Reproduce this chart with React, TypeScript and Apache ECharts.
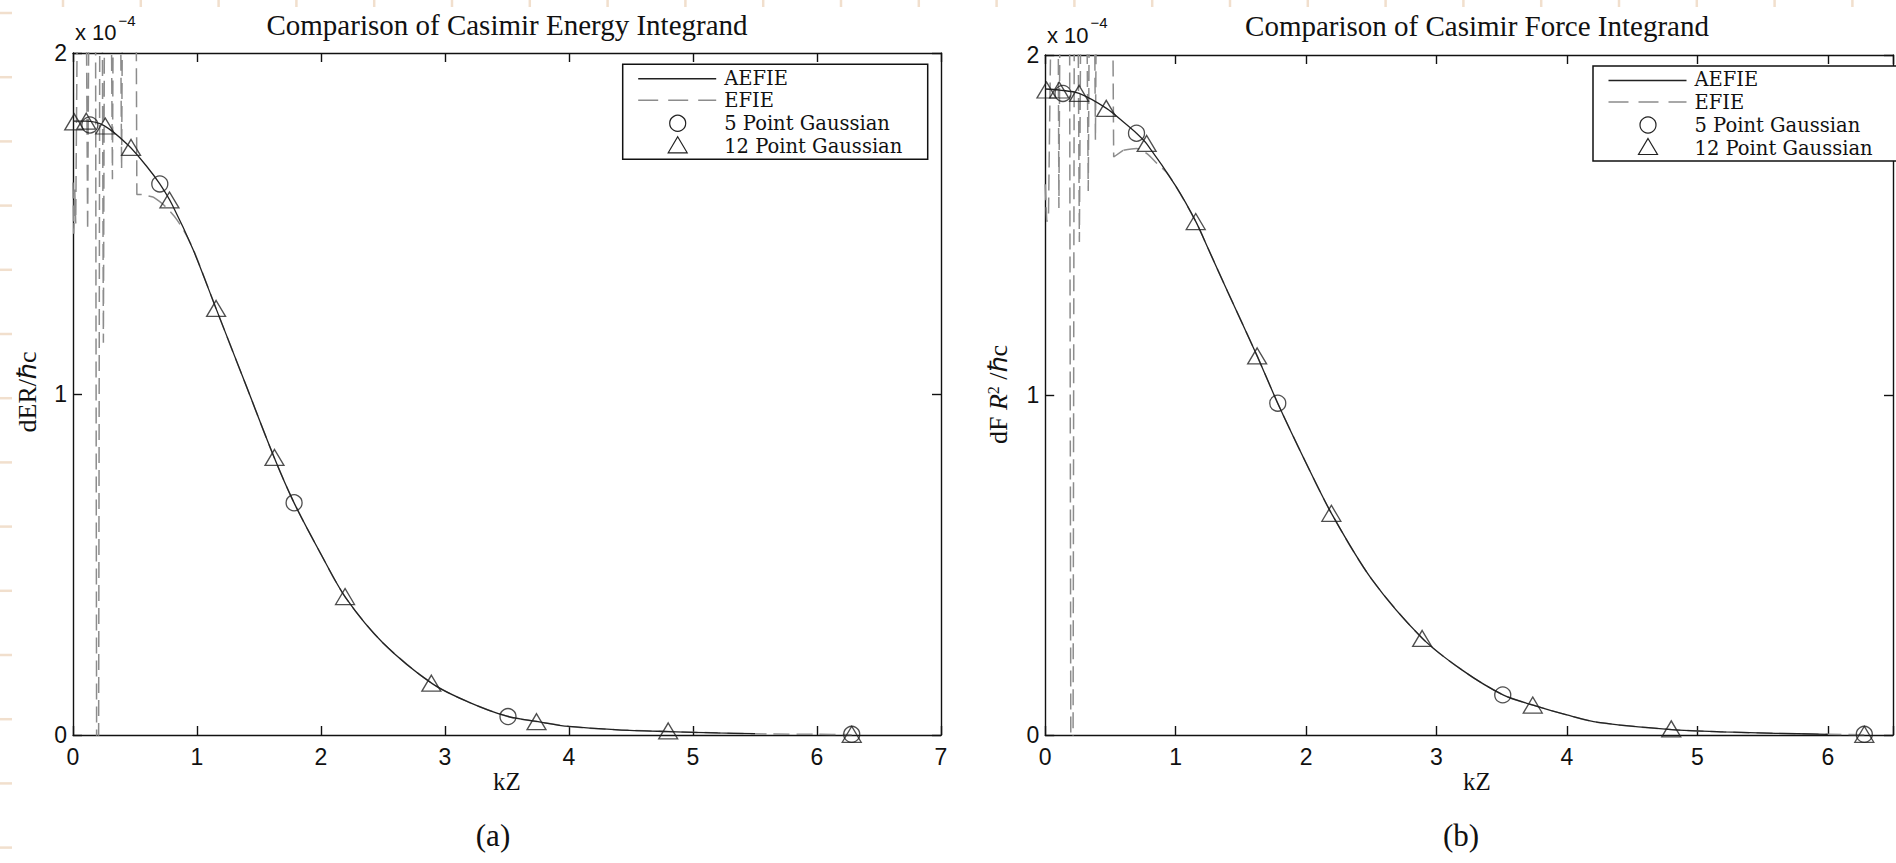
import React, { useEffect, useRef } from "react";
import * as echarts from "echarts";

// Quadrature abscissae (kZ) shared by both panels
const gauss12X = [0.01, 0.107, 0.26, 0.468, 0.778, 1.154, 1.625, 2.194, 2.89, 3.738, 4.8, 6.28];
const gauss5X = [0.136, 0.7, 1.783, 3.508, 6.28];

// (a) Casimir energy integrand, in units of 1e-4
const energyAefieX = [0, 0.1, 0.25, 0.45, 0.6, 0.7, 0.8, 0.97, 1.15, 1.4, 1.62, 1.78, 2.0, 2.2, 2.5, 2.9, 3.2, 3.5, 3.75, 4.0, 4.4, 4.8, 5.2, 5.5];
const energyAefieY = [1.8, 1.8, 1.787, 1.728, 1.665, 1.616, 1.555, 1.422, 1.254, 1.021, 0.816, 0.683, 0.53, 0.402, 0.27, 0.15, 0.095, 0.055, 0.039, 0.025, 0.015, 0.01, 0.006, 0.004];
const energyEfieX = [0, 0.006, 0.014, 0.022, 0.045, 0.1, 0.118, 0.135, 0.18, 0.192, 0.205, 0.218, 0.232, 0.245, 0.258, 0.3, 0.318, 0.33, 0.375, 0.392, 0.405, 0.505, 0.515, 0.56, 0.645, 0.73, 0.84, 0.95, 1.05, 1.15, 1.4, 1.62, 1.78, 2.0, 2.2, 2.5, 2.9, 3.2, 3.5, 3.75, 4.0, 4.4, 4.8, 5.2, 5.6, 6.0, 6.28];
const energyEfieY = [1.62, 1.47, 1.6, 1.5, 2.6, 2.6, 1.48, 2.6, 2.6, -0.4, -0.4, 2.6, 2.6, 1.15, 2.6, 2.6, 1.63, 2.6, 2.6, 1.66, 2.6, 2.6, 1.585, 1.585, 1.578, 1.555, 1.51, 1.44, 1.35, 1.254, 1.021, 0.816, 0.683, 0.53, 0.402, 0.27, 0.15, 0.095, 0.055, 0.039, 0.025, 0.015, 0.01, 0.006, 0.003, 0.002, 0.001];
const energyGauss5Y = [1.789, 1.616, 0.681, 0.054, 0.002];
const energyGauss12Y = [1.798, 1.8, 1.786, 1.723, 1.569, 1.251, 0.814, 0.406, 0.152, 0.039, 0.012, 0.002];

// (b) Casimir force integrand, in units of 1e-4
const forceAefieX = [0, 0.11, 0.26, 0.47, 0.6, 0.7, 0.78, 1.0, 1.155, 1.25, 1.4, 1.625, 1.78, 2.0, 2.2, 2.5, 2.89, 3.2, 3.51, 3.74, 4.0, 4.24, 4.8, 5.2, 5.6, 6.0];
const forceAefieY = [1.9, 1.897, 1.887, 1.843, 1.803, 1.77, 1.738, 1.615, 1.51, 1.43, 1.303, 1.115, 0.978, 0.8, 0.648, 0.46, 0.285, 0.19, 0.118, 0.088, 0.059, 0.037, 0.016, 0.009, 0.005, 0.002];
const forceEfieX = [0, 0.012, 0.025, 0.06, 0.095, 0.105, 0.12, 0.185, 0.198, 0.212, 0.225, 0.245, 0.262, 0.28, 0.31, 0.33, 0.345, 0.37, 0.385, 0.4, 0.51, 0.525, 0.6, 0.7, 0.78, 0.86, 0.93, 1.0, 1.155, 1.25, 1.4, 1.625, 1.78, 2.0, 2.2, 2.5, 2.89, 3.2, 3.51, 3.74, 4.0, 4.24, 4.8, 5.2, 5.6, 6.0, 6.28];
const forceEfieY = [1.62, 1.51, 1.52, 2.6, 2.6, 1.55, 2.6, 2.6, -0.4, -0.4, 2.6, 2.6, 1.45, 2.6, 2.6, 1.6, 2.6, 2.6, 1.75, 2.6, 2.6, 1.7, 1.72, 1.725, 1.71, 1.68, 1.655, 1.615, 1.51, 1.43, 1.303, 1.115, 0.978, 0.8, 0.648, 0.46, 0.285, 0.19, 0.118, 0.088, 0.059, 0.037, 0.016, 0.009, 0.005, 0.002, 0.001];
const forceGauss5Y = [1.887, 1.77, 0.976, 0.118, 0.002];
const forceGauss12Y = [1.897, 1.897, 1.887, 1.843, 1.74, 1.51, 1.115, 0.652, 0.284, 0.088, 0.018, 0.002];

const titles = ["Comparison of Casimir Energy Integrand", "Comparison of Casimir Force Integrand"];
const legendNames = ["AEFIE", "EFIE", "5 Point Gaussian", "12 Point Gaussian"];
const xAxisMax = [7, 6.5];
const yAxisMax = 2;
const efieSmoothFrom = 0.6; // kZ beyond which the EFIE trace is a smooth curve

const SERIF = "'Liberation Serif', 'Times New Roman', serif";
const LEGEND_SERIF = "'DejaVu Serif', 'Liberation Serif', serif";
const SANS = "'Liberation Sans', Arial, Helvetica, sans-serif";
const INK = "#111";

const zip = (xs: number[], ys: number[]) => xs.map((x, i) => [x, ys[i]]);

function axesFor(gridIndex: number, xmax: number) {
  const line = { show: true, onZero: false, lineStyle: { color: INK, width: 1.4 } };
  const tick = { show: true, inside: true, length: 9, lineStyle: { color: INK, width: 1.4 } };
  const lab = { fontFamily: SANS, fontSize: 23, color: INK };
  const x = [
    {
      type: "value", gridIndex, min: 0, max: xmax, interval: 1, position: "bottom",
      axisLine: line, axisTick: tick, splitLine: { show: false },
      axisLabel: { ...lab, margin: 10, formatter: (v: number) => (Number.isInteger(v) ? String(v) : "") },
    },
    {
      type: "value", gridIndex, min: 0, max: xmax, interval: 1, position: "top",
      axisLine: line, axisTick: tick, splitLine: { show: false }, axisLabel: { show: false },
    },
  ];
  const y = [
    {
      type: "value", gridIndex, min: 0, max: yAxisMax, interval: 1, position: "left",
      axisLine: line, axisTick: tick, splitLine: { show: false },
      axisLabel: { ...lab, margin: 6 },
    },
    {
      type: "value", gridIndex, min: 0, max: yAxisMax, interval: 1, position: "right",
      axisLine: line, axisTick: tick, splitLine: { show: false }, axisLabel: { show: false },
    },
  ];
  return { x, y };
}

function seriesFor(axisIndex: number, aX: number[], aY: number[], eX: number[], eY: number[], g5: number[], g12: number[]) {
  const efie = zip(eX, eY);
  const k = eX.findIndex((x) => x >= efieSmoothFrom);
  const efieStyle = { color: "#8c8c8c", width: 1.5, type: [16, 7] };
  return [
    {
      type: "line", name: legendNames[1], xAxisIndex: axisIndex, yAxisIndex: axisIndex,
      data: efie.slice(0, k + 1), showSymbol: false, smooth: false, silent: true, z: 2,
      lineStyle: efieStyle,
    },
    {
      type: "line", name: legendNames[1], xAxisIndex: axisIndex, yAxisIndex: axisIndex,
      data: efie.slice(k), showSymbol: false, smooth: 0.3, silent: true, z: 2,
      lineStyle: efieStyle,
    },
    {
      type: "line", name: legendNames[0], xAxisIndex: axisIndex, yAxisIndex: axisIndex,
      data: zip(aX, aY), showSymbol: false, smooth: 0.3, silent: true, z: 3,
      lineStyle: { color: "#222", width: 1.3 },
    },
    {
      type: "scatter", name: legendNames[2], xAxisIndex: axisIndex, yAxisIndex: axisIndex,
      data: zip(gauss5X, g5), symbol: "circle", symbolSize: 16, silent: true, z: 4, clip: false,
      itemStyle: { color: "rgba(0,0,0,0)", borderColor: "#222", borderWidth: 1.3 },
    },
    {
      type: "scatter", name: legendNames[3], xAxisIndex: axisIndex, yAxisIndex: axisIndex,
      data: zip(gauss12X, g12), symbol: "triangle", symbolSize: [19, 16], silent: true, z: 4, clip: false,
      itemStyle: { color: "rgba(0,0,0,0)", borderColor: "#222", borderWidth: 1.3 },
    },
  ];
}

function legendGraphics(x0: number, y0: number) {
  const tx = x0 + 101.5;
  const txt = (t: string, y: number) => ({
    type: "text", x: tx, y, z: 102,
    style: { text: t, fontFamily: LEGEND_SERIF, fontSize: 19.5, fill: INK, align: "left", verticalAlign: "middle" },
  });
  return [
    { type: "rect", z: 100, shape: { x: x0, y: y0, width: 305, height: 95 }, style: { fill: "#fff", stroke: INK, lineWidth: 1.5 } },
    { type: "line", z: 101, shape: { x1: x0 + 15.5, y1: y0 + 14.5, x2: x0 + 93.5, y2: y0 + 14.5 }, style: { stroke: "#222", lineWidth: 1.4 } },
    { type: "line", z: 101, shape: { x1: x0 + 15.5, y1: y0 + 36, x2: x0 + 93.5, y2: y0 + 36 }, style: { stroke: "#8c8c8c", lineWidth: 1.5, lineDash: [20, 10] } },
    { type: "circle", z: 101, shape: { cx: x0 + 55, cy: y0 + 59, r: 8 }, style: { fill: "none", stroke: "#222", lineWidth: 1.2 } },
    { type: "polygon", z: 101, shape: { points: [[x0 + 55, y0 + 72.5], [x0 + 64.5, y0 + 88.5], [x0 + 45.5, y0 + 88.5]] }, style: { fill: "none", stroke: "#222", lineWidth: 1.2 } },
    txt(legendNames[0], y0 + 13.8),
    txt(legendNames[1], y0 + 36.6),
    txt(legendNames[2], y0 + 59.4),
    txt(legendNames[3], y0 + 82.2),
  ];
}

function textEl(text: string, x: number, y: number, fontSize: number, family: string, align = "center", extra: any = {}) {
  return {
    type: "text", x, y, z: 50, ...extra,
    style: { text, fontFamily: family, fontSize, fill: INK, align, verticalAlign: "middle" },
  };
}

function artifactMarks() {
  const out: any[] = [];
  for (let k = 0; k < 24; k++) {
    const x = 63 + 77.8 * k;
    out.push({ type: "line", z: 1, shape: { x1: x, y1: 0, x2: x, y2: 7 }, style: { stroke: "#f1dfcd", lineWidth: 2.5 } });
  }
  for (let k = 0; k < 14; k++) {
    const y = 13 + 64.2 * k;
    out.push({ type: "line", z: 1, shape: { x1: 0, y1: y, x2: 12, y2: y }, style: { stroke: "#f1dfcd", lineWidth: 2.5 } });
  }
  return out;
}

export default function App() {
  const ref = useRef<HTMLDivElement>(null);
  useEffect(() => {
    if (!ref.current) return;
    const chart = echarts.init(ref.current, undefined, { renderer: "svg" });
    const a = axesFor(0, xAxisMax[0]);
    const b = axesFor(1, xAxisMax[1]);
    const option: any = {
      animation: false,
      backgroundColor: "#fff",
      grid: [
        { left: 73, top: 53, width: 868, height: 682, containLabel: false },
        { left: 1045.2, top: 55, width: 865, height: 680, containLabel: false },
      ],
      xAxis: [...a.x, ...b.x],
      yAxis: [...a.y, ...b.y],
      series: [
        ...seriesFor(0, energyAefieX, energyAefieY, energyEfieX, energyEfieY, energyGauss5Y, energyGauss12Y),
        ...seriesFor(2, forceAefieX, forceAefieY, forceEfieX, forceEfieY, forceGauss5Y, forceGauss12Y),
      ],
      graphic: [
        ...artifactMarks(),
        textEl(titles[0], 507, 25, 29, SERIF),
        textEl(titles[1], 1477, 26, 29, SERIF),
        textEl("x 10", 75, 32.5, 22, SANS, "left"),
        textEl("\u22124", 118.5, 20, 15, SANS, "left"),
        textEl("x 10", 1047, 35, 22, SANS, "left"),
        textEl("\u22124", 1090.5, 22.5, 15, SANS, "left"),
        textEl("dER/\u210Fc", 27, 392, 26, SERIF, "center", { rotation: Math.PI / 2 }),
        {
          type: "text", x: 998, y: 394.5, z: 50, rotation: Math.PI / 2,
          style: {
            text: "{a|dF }{i|R}{s|2}{a| /\u210Fc}",
            align: "center", verticalAlign: "middle", fill: INK,
            rich: {
              a: { fontFamily: SERIF, fontSize: 26, fill: INK },
              i: { fontFamily: SERIF, fontSize: 26, fontStyle: "italic", fill: INK },
              s: { fontFamily: SERIF, fontSize: 16, fill: INK, verticalAlign: "top" },
            },
          },
        },
        textEl("kZ", 507, 781, 25, SERIF),
        textEl("kZ", 1477, 781, 25, SERIF),
        textEl("(a)", 493, 835, 31, SERIF),
        textEl("(b)", 1461, 835, 31, SERIF),
        ...legendGraphics(622.7, 64.3),
        ...legendGraphics(1593, 66),
      ],
    };
    chart.setOption(option);
    return () => chart.dispose();
  }, []);
  return (
    <div
      ref={ref}
      style={{ position: "absolute", left: 0, top: 0, width: 1896, height: 863, background: "#fff" }}
    />
  );
}
